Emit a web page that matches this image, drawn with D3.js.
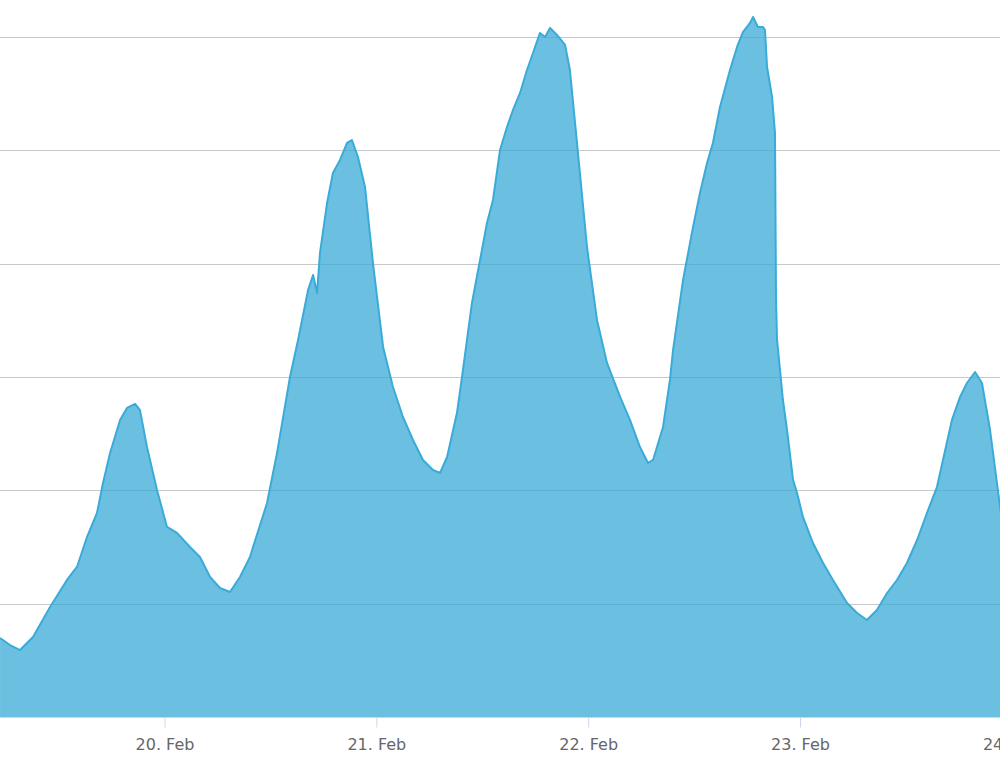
<!DOCTYPE html>
<html>
<head>
<meta charset="utf-8">
<script src="https://cdn.jsdelivr.net/npm/d3@7"></script>
<style>
  body { margin: 0; background: #fff; }
  #chart { width: 1000px; height: 766px; overflow: hidden; }
</style>
</head>
<body>
<div id="chart"></div>
<script>
// sample times (Feb, year arbitrary) and values
const times = [
  "2015-02-19 05:22","2015-02-19 06:30","2015-02-19 07:38","2015-02-19 09:06","2015-02-19 11:02",
  "2015-02-19 12:57","2015-02-19 14:05","2015-02-19 15:13","2015-02-19 16:21","2015-02-19 17:02",
  "2015-02-19 17:50","2015-02-19 18:58","2015-02-19 19:45","2015-02-19 20:40","2015-02-19 21:13",
  "2015-02-19 22:01","2015-02-19 23:09","2015-02-20 00:17","2015-02-20 01:25","2015-02-20 02:53",
  "2015-02-20 04:01","2015-02-20 05:10","2015-02-20 06:17","2015-02-20 07:25","2015-02-20 08:33",
  "2015-02-20 09:41","2015-02-20 10:02","2015-02-20 11:37","2015-02-20 12:45","2015-02-20 14:13",
  "2015-02-20 15:08","2015-02-20 16:16","2015-02-20 16:50","2015-02-20 17:17","2015-02-20 17:37",
  "2015-02-20 18:25","2015-02-20 19:05","2015-02-20 19:53","2015-02-20 20:41","2015-02-20 21:14",
  "2015-02-20 21:55","2015-02-20 22:43","2015-02-20 23:37","2015-02-21 00:46","2015-02-21 01:53",
  "2015-02-21 03:01","2015-02-21 04:09","2015-02-21 05:17","2015-02-21 06:25","2015-02-21 07:13",
  "2015-02-21 08:01","2015-02-21 09:08","2015-02-21 09:49","2015-02-21 10:50","2015-02-21 11:45",
  "2015-02-21 12:32","2015-02-21 13:13","2015-02-21 14:01","2015-02-21 14:48","2015-02-21 15:29",
  "2015-02-21 16:17","2015-02-21 17:04","2015-02-21 17:45","2015-02-21 18:32","2015-02-21 19:07",
  "2015-02-21 19:41","2015-02-21 20:28","2015-02-21 21:23","2015-02-21 21:56","2015-02-21 22:44",
  "2015-02-21 23:52","2015-02-22 01:00","2015-02-22 02:08","2015-02-22 03:37","2015-02-22 04:44",
  "2015-02-22 05:52","2015-02-22 06:47","2015-02-22 07:21","2015-02-22 08:29","2015-02-22 09:16",
  "2015-02-22 09:37","2015-02-22 10:45","2015-02-22 11:53","2015-02-22 12:40","2015-02-22 13:28",
  "2015-02-22 14:08","2015-02-22 14:56","2015-02-22 16:04","2015-02-22 16:52","2015-02-22 17:32",
  "2015-02-22 18:20","2015-02-22 18:41","2015-02-22 19:14","2015-02-22 19:49","2015-02-22 20:02",
  "2015-02-22 20:16","2015-02-22 20:50","2015-02-22 21:10","2015-02-22 21:17","2015-02-22 21:24",
  "2015-02-22 22:04","2015-02-22 22:32","2015-02-22 23:13","2015-02-22 23:40","2015-02-23 00:20",
  "2015-02-23 01:28","2015-02-23 02:37","2015-02-23 03:44","2015-02-23 05:20","2015-02-23 06:28",
  "2015-02-23 07:35","2015-02-23 08:43","2015-02-23 09:52","2015-02-23 10:59","2015-02-23 12:07",
  "2015-02-23 13:16","2015-02-23 14:23","2015-02-23 15:31","2015-02-23 16:12","2015-02-23 17:13",
  "2015-02-23 18:08","2015-02-23 18:55","2015-02-23 19:50","2015-02-23 20:37","2015-02-23 21:32",
  "2015-02-23 22:40","2015-02-23 23:12"
];
const values = [
  6.97, 6.35, 5.91, 7.06, 9.71,
  12.09, 13.24, 15.88, 18.00, 20.65,
  23.29, 26.21, 27.27, 27.62, 27.09,
  23.82, 20.03, 16.77, 16.24, 15.00,
  14.12, 12.35, 11.38, 11.03, 12.35,
  14.12, 15.00, 18.88, 23.29, 30.00,
  33.27, 37.68, 39.00, 37.41, 40.94,
  45.35, 48.00, 49.15, 50.65, 50.91,
  49.41, 46.77, 40.06, 32.65, 29.12,
  26.47, 24.44, 22.68, 21.79, 21.53,
  22.94, 26.82, 30.62, 36.53, 40.32,
  43.59, 45.62, 50.03, 52.06, 53.56,
  55.06, 57.09, 58.59, 60.35, 60.00,
  60.80, 60.18, 59.30, 57.09, 50.65,
  41.47, 35.03, 31.24, 28.24, 26.21,
  23.82, 22.41, 22.68, 25.59, 29.74,
  32.38, 38.56, 43.24, 46.24, 48.88,
  50.65, 53.82, 57.09, 59.12, 60.44,
  61.24, 61.77, 60.88, 60.88, 60.62,
  57.35, 54.71, 51.53, 36.79, 33.27,
  27.97, 25.32, 20.91, 19.77, 17.65,
  15.35, 13.59, 12.09, 10.06, 9.18,
  8.56, 9.44, 10.94, 12.09, 13.59,
  15.62, 18.00, 20.29, 22.68, 26.21,
  28.24, 29.47, 30.44, 29.47, 25.32,
  18.53, 15.60
];
const tickDays = ["2015-02-20 00:00","2015-02-21 00:00","2015-02-22 00:00","2015-02-23 00:00","2015-02-24 00:00"];
const gridValues = [10, 20, 30, 40, 50, 60];

const seriesColour = "#3aabd8";
const gridColour = "#c8c8c8";
const axisColour = "#ccd6eb";

const width = 1000, height = 766;
const parse = d3.timeParse("%Y-%m-%d %H:%M");

const data = times.map((t, i) => ({date: parse(t), value: values[i]}));

const svg = d3.select("#chart")
  .append("svg")
    .attr("width", width)
    .attr("height", height);

// plot runs past the right edge (chart is cropped)
const x = d3.scaleTime()
  .domain([parse("2015-02-20 00:00"), parse("2015-02-23 00:00")])
  .range([164.5, 800]);

const y = d3.scaleLinear()
  .domain([0, 60])
  .range([717, 37]);

// grid lines
svg.append("g")
  .selectAll("line")
  .data(gridValues)
  .join("line")
    .attr("x1", 0)
    .attr("x2", width)
    .attr("y1", d => Math.round(y(d)) + 0.5)
    .attr("y2", d => Math.round(y(d)) + 0.5)
    .style("stroke", gridColour)
    .style("stroke-width", 1);

// area + line
const area = d3.area()
  .x(d => x(d.date))
  .y0(y(0))
  .y1(d => y(d.value));

const line = d3.line()
  .x(d => x(d.date))
  .y(d => y(d.value));

svg.append("path")
  .datum(data)
  .attr("d", area)
  .style("fill", seriesColour)
  .style("fill-opacity", 0.75);

svg.append("path")
  .datum(data)
  .attr("d", line)
  .style("fill", "none")
  .style("stroke", seriesColour)
  .style("stroke-width", 2)
  .style("stroke-linejoin", "round");

// x axis
const xAxis = d3.axisBottom(x)
  .tickValues(tickDays.map(parse))
  .tickFormat(d3.timeFormat("%-d. %b"))
  .tickSize(10)
  .tickSizeOuter(0)
  .tickPadding(11);

const ax = svg.append("g")
  .attr("transform", `translate(0, ${y(0) + 0.5})`)
  .call(xAxis);

ax.select(".domain").remove();
ax.append("line")
  .attr("x1", 0).attr("x2", width)
  .style("stroke", axisColour);
ax.selectAll(".tick line").style("stroke", axisColour);
ax.selectAll(".tick text")
  .style("fill", "#666666")
  .style("font-family", "'DejaVu Sans', Verdana, sans-serif")
  .style("font-size", "16px");
</script>
</body>
</html>
